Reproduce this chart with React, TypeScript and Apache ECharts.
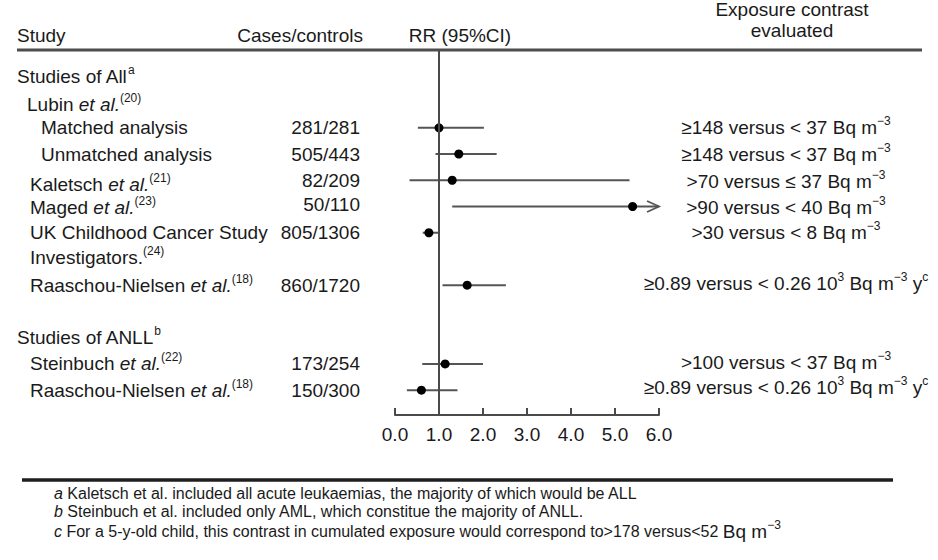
import React, { useEffect, useRef } from "react";
import * as echarts from "echarts";

const FONT = '"Liberation Sans", Arial, Helvetica, sans-serif';
const TEXT = "#1a1a1a";
const AXIS = "#4a4a4a";
const CI_COLOR = "#555555";
const LH = 21;

// ---- data ----
const xTicks = [0, 1, 2, 3, 4, 5, 6];
const referenceRR = 1;

const studyLabels = [
  "Matched analysis",
  "Unmatched analysis",
  "Kaletsch {i|et al.}{sup|(21)}",
  "Maged {i|et al.}{sup|(23)}",
  "UK Childhood Cancer Study",
  "Investigators.{sup|(24)}",
  "Raaschou-Nielsen {i|et al.}{sup|(18)}",
  "Steinbuch {i|et al.}{sup|(22)}",
  "Raaschou-Nielsen {i|et al.}{sup|(18)}",
];
const studyIndent = [41, 41, 30, 30, 30, 30, 30, 30, 30];
const studyLabelRows = [2, 3, 4.17, 5.04, 6, 6.95, 8, 11, 12];
const casesControls = ["281/281", "505/443", "82/209", "50/110", "805/1306", "860/1720", "173/254", "150/300"];
const casesRows = [2, 3, 4, 4.92, 6, 8, 11, 12];
const rowPositions = [2, 3, 4, 5, 6, 8, 11, 12];
const rrEstimates = [1.0, 1.45, 1.3, 5.4, 0.77, 1.64, 1.14, 0.6];
const ciLower = [0.52, 0.92, 0.33, 1.3, 0.63, 1.08, 0.62, 0.27];
const ciUpper = [2.02, 2.31, 5.33, 6.0, 1.0, 2.52, 2.0, 1.42];
const ciOpenEnded = [false, false, false, true, false, false, false, false];
const exposureContrasts = [
  "≥148 versus < 37 Bq m{sup|−3}",
  "≥148 versus < 37 Bq m{sup|−3}",
  ">70 versus ≤ 37 Bq m{sup|−3}",
  ">90 versus < 40 Bq m{sup|−3}",
  ">30 versus < 8 Bq m{sup|−3}",
  "≥0.89 versus < 0.26 10{sup|3} Bq m{sup|−3} y{sup|c}",
  ">100 versus < 37 Bq m{sup|−3}",
  "≥0.89 versus < 0.26 10{sup|3} Bq m{sup|−3} y{sup|c}",
];
const exposureRows = [2, 3, 4.03, 5.02, 6.01, 7.93, 10.95, 11.9];
const groupLabels = ["Studies of All{sup|a}", "Lubin {i|et al.}{sup|(20)}", "Studies of ANLL{sup|b}"];
const groupRows = [0.05, 1.1, 10];
const groupIndent = [17, 27, 17];
const headers = ["Study", "Cases/controls", "RR (95%CI)", "Exposure contrast", "evaluated"];
const footnotes = [
  "{i|a} Kaletsch et al. included all acute leukaemias, the majority of which would be ALL",
  "{i|b} Steinbuch et al. included only AML, which constitue the majority of ANLL.",
  "{i|c} For a 5-y-old child, this contrast in cumulated exposure would correspond to>178 versus<52 {big|Bq m}{bsup|−3}",
];

const rich: any = {
  i: { fontStyle: "italic", fontSize: 19, fontFamily: FONT, fill: TEXT },
  sup: { fontSize: 12, fontFamily: FONT, fill: TEXT, padding: [0, 0, 13, 0] },
};
const footRich: any = {
  i: { fontStyle: "italic", fontSize: 16, fontFamily: FONT, fill: TEXT },
  big: { fontSize: 19, fontFamily: FONT, fill: TEXT },
  bsup: { fontSize: 12, fontFamily: FONT, fill: TEXT, padding: [0, 0, 13, 0] },
};

type Entry = { text: string; row: number; x: number; align: string };
const textEntries: Entry[] = [
  ...groupLabels.map((t, i) => ({ text: t, row: groupRows[i], x: groupIndent[i], align: "left" })),
  ...studyLabels.map((t, i) => ({ text: t, row: studyLabelRows[i], x: studyIndent[i], align: "left" })),
  ...casesControls.map((t, i) => ({ text: t, row: casesRows[i], x: 360, align: "right" })),
  ...exposureContrasts.map((t, i) => ({ text: t, row: exposureRows[i], x: 786, align: "center" })),
];

function renderCI(params: any, api: any) {
  const y = api.value(1);
  const p0 = api.coord([api.value(0), y]);
  const p1 = api.coord([api.value(2), y]);
  const children: any[] = [
    {
      type: "line",
      shape: { x1: p0[0], y1: p0[1], x2: p1[0], y2: p1[1] },
      style: { stroke: CI_COLOR, lineWidth: 2 },
    },
  ];
  if (api.value(3)) {
    children.push({
      type: "polyline",
      shape: { points: [[p1[0] - 12, p1[1] - 5.5], [p1[0], p1[1]], [p1[0] - 12, p1[1] + 5.5]] },
      style: { stroke: CI_COLOR, lineWidth: 1.8, fill: null },
    });
  }
  return { type: "group", children };
}

function renderText(params: any, api: any) {
  const e = textEntries[params.dataIndex];
  const pt = api.coord([0, api.value(1)]);
  return {
    type: "text",
    x: e.x,
    y: pt[1],
    style: {
      text: e.text,
      fill: TEXT,
      fontSize: 19,
      fontFamily: FONT,
      align: e.align,
      verticalAlign: "middle",
      lineHeight: LH,
      rich,
    },
  };
}

function headerText(text: string, x: number, y: number, align: string) {
  return {
    type: "text",
    x,
    y,
    style: { text, fill: TEXT, fontSize: 19, fontFamily: FONT, align, verticalAlign: "middle" },
  };
}

const footY = [493, 511, 531];

const option: any = {
  animation: false,
  backgroundColor: "#ffffff",
  grid: { left: 395, right: 279, top: 50, bottom: 145, containLabel: false },
  xAxis: {
    type: "value",
    min: xTicks[0],
    max: xTicks[xTicks.length - 1],
    interval: 1,
    axisLine: { onZero: false, lineStyle: { color: AXIS, width: 2 } },
    axisTick: { inside: true, length: 7, lineStyle: { color: AXIS, width: 2 } },
    splitLine: { show: false },
    axisLabel: {
      fontSize: 19,
      fontFamily: FONT,
      color: TEXT,
      margin: 10,
      formatter: (v: number) => v.toFixed(1),
    },
  },
  yAxis: { type: "value", inverse: true, min: -0.964, max: 12.946, show: false },
  series: [
    {
      type: "custom",
      name: "ci",
      renderItem: renderCI,
      data: rowPositions.map((r, i) => [ciLower[i], r, ciUpper[i], ciOpenEnded[i] ? 1 : 0]),
      encode: { x: [0, 2], y: 1 },
      z: 2,
      silent: true,
    },
    {
      type: "scatter",
      name: "rr",
      data: rrEstimates.map((v, i) => [v, rowPositions[i]]),
      symbol: "circle",
      symbolSize: 9,
      itemStyle: { color: "#000000", opacity: 1 },
      z: 3,
      silent: true,
      markLine: {
        silent: true,
        symbol: "none",
        label: { show: false },
        lineStyle: { color: AXIS, width: 2, type: "solid" },
        data: [{ xAxis: referenceRR }],
      },
    },
    {
      type: "custom",
      name: "table",
      renderItem: renderText,
      data: textEntries.map((e) => [0, e.row]),
      encode: { x: 0, y: 1 },
      clip: false,
      silent: true,
    },
  ],
  graphic: [
    headerText(headers[0], 17, 35, "left"),
    headerText(headers[1], 363, 35, "right"),
    headerText(headers[2], 460, 35, "center"),
    headerText(headers[3], 792, 9, "center"),
    headerText(headers[4], 792, 30, "center"),
    {
      type: "line",
      shape: { x1: 17, y1: 50, x2: 922, y2: 50 },
      style: { stroke: "#4d4d4d", lineWidth: 3 },
    },
    {
      type: "line",
      shape: { x1: 22, y1: 480, x2: 893, y2: 480 },
      style: { stroke: "#1e1e1e", lineWidth: 3.5 },
    },
    ...footnotes.map((t, i) => ({
      type: "text",
      x: 54,
      y: footY[i],
      style: {
        text: t,
        fill: TEXT,
        fontSize: 16,
        fontFamily: FONT,
        align: "left",
        verticalAlign: "middle",
        rich: footRich,
      },
    })),
  ],
};

export default function App() {
  const ref = useRef<HTMLDivElement>(null);
  useEffect(() => {
    const chart = echarts.init(ref.current!, null, { renderer: "svg" });
    chart.setOption(option);
    return () => chart.dispose();
  }, []);
  return (
    <div
      ref={ref}
      style={{ position: "absolute", left: 0, top: 0, width: 938, height: 560, background: "#fff" }}
    />
  );
}
